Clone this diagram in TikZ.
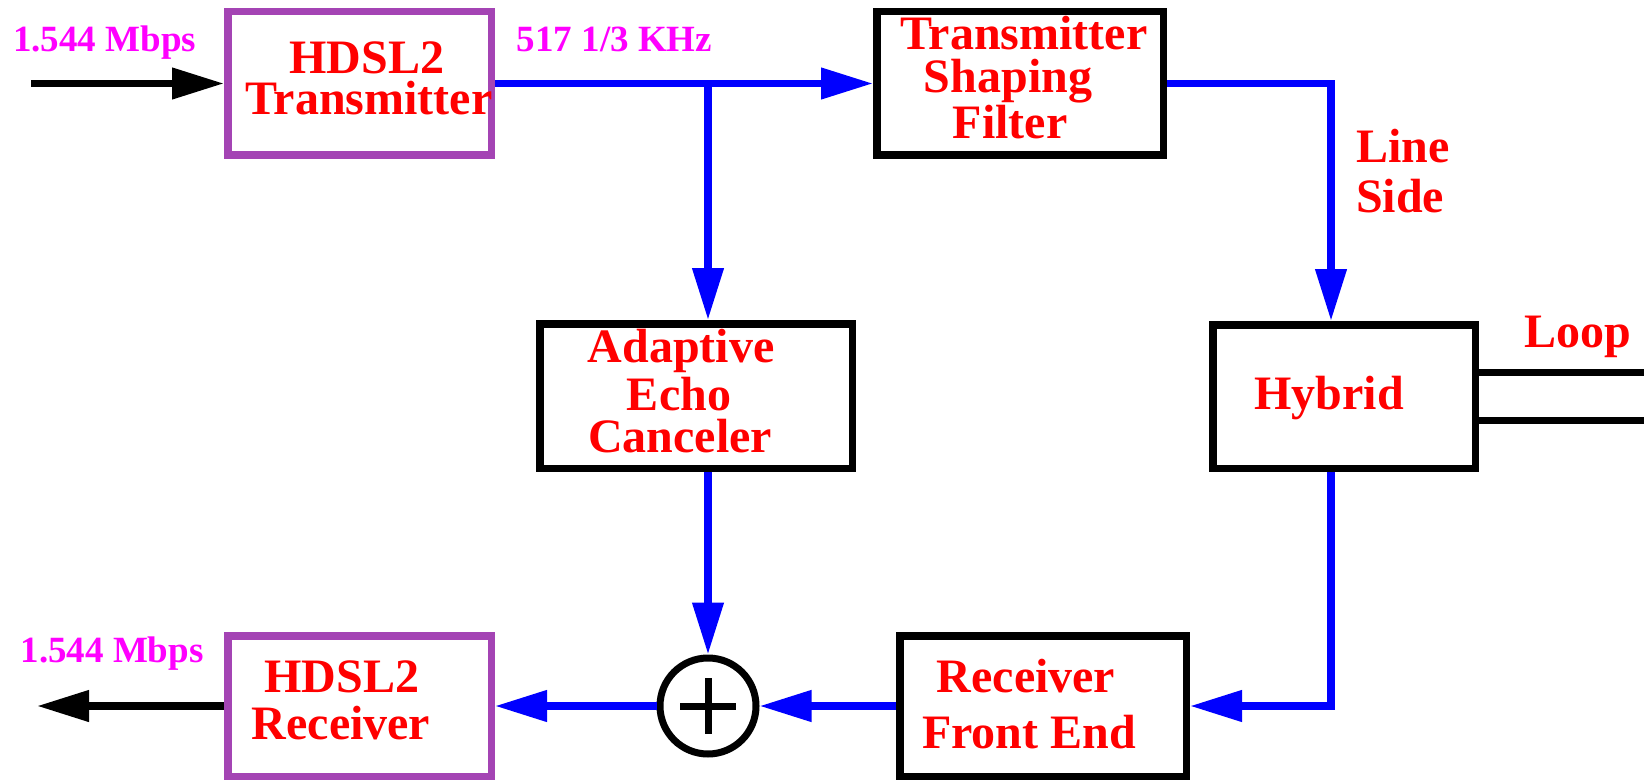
\documentclass[tikz,border=0pt]{standalone}
\usepackage{fontspec}
\setmainfont{Liberation Serif}
\usetikzlibrary{arrows.meta,calc}
\definecolor{boxpurple}{RGB}{164,68,180}
\definecolor{ratemagenta}{RGB}{255,0,255}
\begin{document}
\begin{tikzpicture}[x=1pt,y=-1pt,
  blk/.style={draw=black,line width=7.5pt,rectangle,inner sep=0pt},
  pblk/.style={blk,draw=boxpurple},
  lbl/.style={text=red,font=\bfseries\fontsize{48}{48}\selectfont,anchor=base,inner sep=0pt},
  lblw/.style={lbl,anchor=base west},
  rate/.style={text=ratemagenta,font=\bfseries\fontsize{37}{37}\selectfont,anchor=base,inner sep=0pt},
  sig/.style={draw=blue,line width=7.5pt,-{Triangle[length=52pt,width=30pt]}},
  blackarrow/.style={draw=black,line width=7.5pt,-{Triangle[length=52pt,width=30pt]}},
  wire/.style={draw=black,line width=7pt}]
\useasboundingbox (0,0) rectangle (1644,781);
% blocks
\node[pblk,minimum width=263.5pt,minimum height=143.5pt] (tx) at (359.5,83.5) {};
\node[blk,minimum width=286.5pt,minimum height=143.5pt] (tsf) at (1020,83.5) {};
\node[blk,minimum width=312.5pt,minimum height=144.5pt] (aec) at (696,396) {};
\node[blk,minimum width=262.5pt,minimum height=143.5pt] (hyb) at (1344,396.5) {};
\node[pblk,minimum width=263.5pt,minimum height=140.5pt] (rx) at (359.5,706) {};
\node[blk,minimum width=286.5pt,minimum height=140.5pt] (rfe) at (1043,706) {};
\node[draw,circle,line width=7pt,minimum size=96pt,inner sep=0pt] (sum) at (708,706) {};
% free ends
\coordinate (in) at (31,83.5);
\coordinate (out) at (37,706);
\coordinate (br) at (708,83.5);
\coordinate (hx) at (1331,0);
\coordinate (l1) at (1644,372);
\coordinate (l2) at (1644,420);
% connectors
\draw[blackarrow] (in) -- (tx.west);
\draw[sig] (tx.east) -- (tsf.west);
\draw[sig] (br) -- (br |- aec.north);
\draw[sig] (tsf.east) -| (hx |- hyb.north);
\draw[sig] (hx |- hyb.south) |- (rfe.east);
\draw[sig] (rfe.west) -- (sum.east);
\draw[sig] (sum.west) -- (rx.east);
\draw[sig] (sum |- aec.south) -- (sum.north);
\draw[blackarrow] (rx.west) -- (out);
\draw[wire] (hyb.east |- l1) -- (l1);
\draw[wire] (hyb.east |- l2) -- (l2);
% plus sign
\draw[wire] ($(sum.center)+(-28,0)$) -- ($(sum.center)+(28,0)$);
\draw[wire] ($(sum.center)+(0,-28)$) -- ($(sum.center)+(0,28)$);
% texts
\node[rate] (rin) at (104.5,52) {1.544 Mbps};
\node[rate] (rclk) at (614.5,52) {517 1/3 KHz};
\node[rate] (rout) at (112,662) {1.544 Mbps};
\node[lbl] (txa) at (367,74) {HDSL2};
\node[lbl] (txb) at (369,115) {Transmitter};
\node[lbl] (tsfa) at (1024,50) {Transmitter};
\node[lbl] (tsfb) at (1008,93) {Shaping};
\node[lbl] (tsfc) at (1010,139) {Filter};
\node[lbl] (aeca) at (681,362) {Adaptive};
\node[lbl] (aecb) at (679,410) {Echo};
\node[lbl] (aecc) at (680,452) {Canceler};
\node[lbl] (hyba) at (1329,409) {Hybrid};
\node[lblw] (lsa) at (1356,163) {Line};
\node[lblw] (lsb) at (1356,212) {Side};
\node[lblw] (loop) at (1524,347) {Loop};
\node[lbl] (rxa) at (342,692) {HDSL2};
\node[lbl] (rxb) at (341,739) {Receiver};
\node[lbl] (rfea) at (1026,692) {Receiver};
\node[lbl] (rfeb) at (1029,748) {Front End};
\end{tikzpicture}
\end{document}
